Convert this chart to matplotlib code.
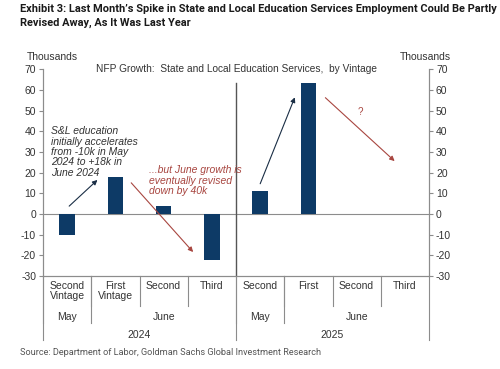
import matplotlib.pyplot as plt
import matplotlib.transforms as mtransforms
import numpy as np

# data (thousands)
vintages = ["Second\nVintage", "First\nVintage", "Second", "Third",
            "Second", "First", "Second", "Third"]
values = [-10, 18, 4, -22.3, 11.3, 63.3, np.nan, np.nan]
months = ["May", "June", "May", "June"]
month_spans = [(0, 1), (1, 4), (4, 5), (5, 8)]
years = ["2024", "2025"]
year_spans = [(0, 4), (4, 8)]

NAVY = "#0d3a66"
RED = "#a84640"
GRAY = "#8c8c8c"
TXT = "#333333"

plt.rcParams['font.family'] = ['Liberation Sans', 'DejaVu Sans']
plt.rcParams['axes.unicode_minus'] = False

fig = plt.figure(figsize=(5, 3.69), dpi=100)
ax = fig.add_axes([0.086, 0.252, 0.772, 0.560])

x = np.arange(len(values))
ax.bar(x, values, width=0.32, color=NAVY, zorder=3)
ax.set_xlim(-0.5, 7.5)
ax.set_ylim(-30, 70)
ax.axhline(0, color=GRAY, lw=0.8, zorder=2)

ax2 = ax.twinx()
ax2.set_ylim(-30, 70)
for a in (ax, ax2):
    a.set_yticks(range(-30, 71, 10))
    a.tick_params(axis='y', labelsize=7.5, colors=GRAY, labelcolor=TXT, length=3, width=0.8, pad=2)
    a.spines["top"].set_visible(False)
    for s in ("left", "right", "bottom"):
        a.spines[s].set_color(GRAY)
        a.spines[s].set_linewidth(0.8)
ax.set_xticks([])

# vertical divider between years
trans = mtransforms.blended_transform_factory(ax.transData, ax.transAxes)
ax.plot([3.5, 3.5], [-30, 63.5], color="#555555", lw=1.0, zorder=2)

# category axis lines below plot
def vline(xpos, y0, y1):
    ax.plot([xpos, xpos], [y0, y1], transform=trans, color=GRAY, lw=0.8, clip_on=False)

for i in range(1, 8):
    if i != 4:
        vline(i - 0.5, 0, -0.145)
for a_, b_ in month_spans:
    vline(a_ - 0.5, 0, -0.227)
for a_, b_ in year_spans:
    vline(a_ - 0.5, 0, -0.31)
vline(7.5, 0, -0.31)

for i, lab in enumerate(vintages):
    ax.text(i, -0.025, lab, transform=trans, ha="center", va="top", fontsize=7.5,
            color=TXT, linespacing=0.95)
for lab, (a_, b_) in zip(months, month_spans):
    ax.text((a_ + b_ - 1) / 2, -0.2, lab, transform=trans, ha="center", va="center",
            fontsize=7.5, color=TXT)
for lab, (a_, b_) in zip(years, year_spans):
    ax.text((a_ + b_ - 1) / 2, -0.285, lab, transform=trans, ha="center", va="center",
            fontsize=7.5, color=TXT)

# annotations
ax.annotate("", xy=(0.67, 17.4), xytext=(0.0, 2.9),
            arrowprops=dict(arrowstyle="-|>", color="#1a2e45", lw=0.8, mutation_scale=7))
ax.annotate("", xy=(2.65, -19.4), xytext=(1.29, 16.1),
            arrowprops=dict(arrowstyle="-|>", color=RED, lw=0.8, mutation_scale=7))
ax.annotate("", xy=(4.74, 57.7), xytext=(3.98, 13.4),
            arrowprops=dict(arrowstyle="-|>", color="#1a2e45", lw=0.8, mutation_scale=7))
ax.annotate("", xy=(6.83, 24.7), xytext=(5.31, 57.2),
            arrowprops=dict(arrowstyle="-|>", color=RED, lw=0.8, mutation_scale=7))

ax.text(-0.33, 42.5, "S&L education\ninitially accelerates\nfrom -10k in May\n2024 to +18k in\nJune 2024",
        style="italic", fontsize=7.5, color=TXT, va="top", ha="left", linespacing=1.05)
ax.text(1.7, 23.5, "...but June growth is\neventually revised\ndown by 40k",
        style="italic", fontsize=7.5, color=RED, va="top", ha="left", linespacing=1.05)
ax.text(6.07, 49.6, "?", fontsize=7, color=RED, ha="center", va="center")

ax.text(0.5, 1.0, "NFP Growth:  State and Local Education Services,  by Vintage",
        transform=ax.transAxes, ha="center", va="center", fontsize=7.3, color=TXT)
fig.text(0.054, 0.845, "Thousands", fontsize=7.5, color=TXT, ha="left", va="center")
fig.text(0.80, 0.845, "Thousands", fontsize=7.5, color=TXT, ha="left", va="center")

fig.text(0.04, 0.988, "Exhibit 3: Last Month\u2019s Spike in State and Local Education Services Employment Could Be Partly\nRevised Away, As It Was Last Year",
         fontsize=7.9, fontweight="bold", color="#1a1a1a", ha="left", va="top",
         family=["Roboto", "DejaVu Sans"], linespacing=1.4)
fig.text(0.04, 0.046, "Source: Department of Labor, Goldman Sachs Global Investment Research",
         fontsize=6.6, color="#555555", ha="left", va="center",
         family=["Roboto", "DejaVu Sans"])

fig.savefig("out.png", dpi=100, facecolor="white")
